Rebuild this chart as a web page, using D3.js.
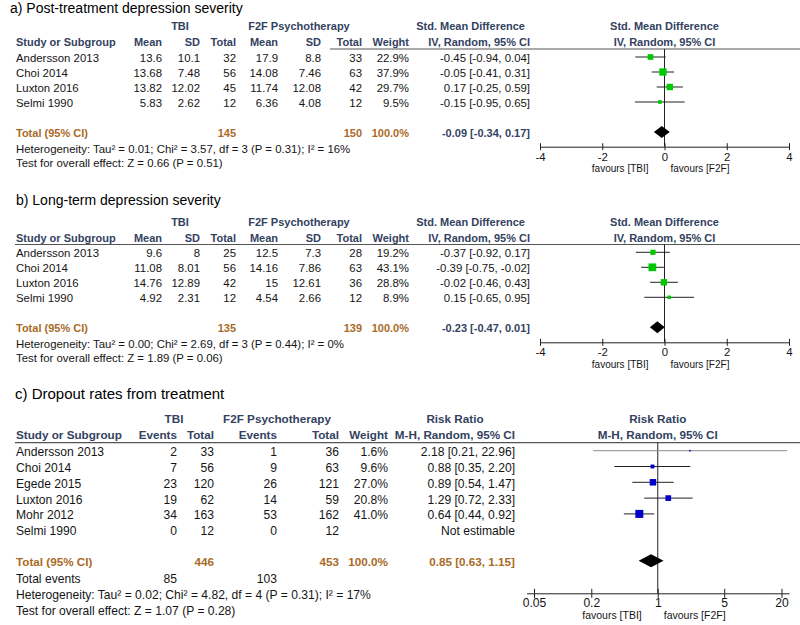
<!DOCTYPE html>
<html><head><meta charset="utf-8">
<script src="https://cdn.jsdelivr.net/npm/d3@7"></script>
<style>body{margin:0;background:#fff} svg{display:block} text{font-family:"Liberation Sans",Arial,sans-serif}</style>
</head><body><svg id="c" width="800" height="625"></svg>
<script>
// ---------- DATA ----------
const aTitle = "a) Post-treatment depression severity";
const aStudies = ["Andersson 2013","Choi 2014","Luxton 2016","Selmi 1990"];
const aTbiMean = [13.6, 13.68, 13.82, 5.83];
const aTbiSD   = [10.1, 7.48, 12.02, 2.62];
const aTbiN    = [32, 56, 45, 12];
const aF2fMean = [17.9, 14.08, 11.74, 6.36];
const aF2fSD   = [8.8, 7.46, 12.08, 4.08];
const aF2fN    = [33, 63, 42, 12];
const aWeight  = [22.9, 37.9, 29.7, 9.5];
const aEst     = [-0.45, -0.05, 0.17, -0.15];
const aLo      = [-0.94, -0.41, -0.25, -0.95];
const aHi      = [0.04, 0.31, 0.59, 0.65];
const aTotalN  = [145, 150];
const aTotalCI = [-0.09, -0.34, 0.17];
const aHet  = "Heterogeneity: Tau\u00b2 = 0.01; Chi\u00b2 = 3.57, df = 3 (P = 0.31); I\u00b2 = 16%";
const aTest = "Test for overall effect: Z = 0.66 (P = 0.51)";

const bTitle = "b) Long-term depression severity";
const bStudies = ["Andersson 2013","Choi 2014","Luxton 2016","Selmi 1990"];
const bTbiMean = [9.6, 11.08, 14.76, 4.92];
const bTbiSD   = [8, 8.01, 12.89, 2.31];
const bTbiN    = [25, 56, 42, 12];
const bF2fMean = [12.5, 14.16, 15, 4.54];
const bF2fSD   = [7.3, 7.86, 12.61, 2.66];
const bF2fN    = [28, 63, 36, 12];
const bWeight  = [19.2, 43.1, 28.8, 8.9];
const bEst     = [-0.37, -0.39, -0.02, 0.15];
const bLo      = [-0.92, -0.75, -0.46, -0.65];
const bHi      = [0.17, -0.02, 0.43, 0.95];
const bTotalN  = [135, 139];
const bTotalCI = [-0.23, -0.47, 0.01];
const bHet  = "Heterogeneity: Tau\u00b2 = 0.00; Chi\u00b2 = 2.69, df = 3 (P = 0.44); I\u00b2 = 0%";
const bTest = "Test for overall effect: Z = 1.89 (P = 0.06)";

const cTitle = "c) Dropout rates from treatment";
const cStudies  = ["Andersson 2013","Choi 2014","Egede 2015","Luxton 2016","Mohr 2012","Selmi 1990"];
const cTbiEv    = [2, 7, 23, 19, 34, 0];
const cTbiN     = [33, 56, 120, 62, 163, 12];
const cF2fEv    = [1, 9, 26, 14, 53, 0];
const cF2fN     = [36, 63, 121, 59, 162, 12];
const cWeight   = [1.6, 9.6, 27.0, 20.8, 41.0, null];
const cEst      = [2.18, 0.88, 0.89, 1.29, 0.64, null];
const cLo       = [0.21, 0.35, 0.54, 0.72, 0.44, null];
const cHi       = [22.96, 2.20, 1.47, 2.33, 0.92, null];
const cTotalN   = [446, 453];
const cTotalEv  = [85, 103];
const cTotalCI  = [0.85, 0.63, 1.15];
const cHet  = "Heterogeneity: Tau\u00b2 = 0.02; Chi\u00b2 = 4.82, df = 4 (P = 0.31); I\u00b2 = 17%";
const cTest = "Test for overall effect: Z = 1.07 (P = 0.28)";

const smdTicks = [-4, -2, 0, 2, 4];
const rrTicks  = [0.05, 0.2, 1, 5, 20];

// ---------- DRAWING ----------
const svg = d3.select("#c");
const HEAD = "#33425f", TOT = "#aa6a28", TXT = "#151515";
const f2 = d => d.toFixed(2);
const ci = (e, l, h) => `${f2(e)} [${f2(l)}, ${f2(h)}]`;
const pct = w => w.toFixed(1) + "%";

function txt(g, x, y, s, o = {}) {
  const t = g.append("text").attr("x", x).attr("y", y).text(s)
    .attr("text-anchor", o.anchor || "start")
    .attr("font-size", o.fs)
    .attr("fill", o.fill || TXT);
  if (o.bold) t.attr("font-weight", "bold");
  if (o.family) t.attr("font-family", o.family);
  return t;
}

function drawAxis(g, x, L, ticks, zero) {
  const ax = g.append("g").attr("transform", `translate(0,${L.axisY})`)
    .call(d3.axisBottom(x).tickValues(ticks).tickSize(0).tickPadding(0).tickFormat(d => String(d)));
  ax.select(".domain").attr("stroke", "#222").attr("stroke-width", 1);
  ax.selectAll(".tick line").attr("y1", -L.tickLen).attr("y2", L.tickLen).attr("stroke", "#222");
  ax.selectAll(".tick text").attr("y", L.tickLabY - L.axisY).attr("dy", 0)
    .attr("font-size", L.fs).attr("fill", TXT).attr("font-family", '"Liberation Sans",Arial,sans-serif');
  // zero line
  g.append("line").attr("x1", x(zero)).attr("x2", x(zero))
    .attr("y1", L.lineY).attr("y2", L.axisY).attr("stroke", "#222").attr("stroke-width", 1);
  txt(g, x(zero) - 16, L.favY, "favours [TBI]", {anchor: "end", fs: L.favFs});
  txt(g, x(zero) + 6, L.favY, "favours [F2F]", {fs: L.favFs});
}

function drawMarkers(g, x, L, rows, color, size, tot) {
  rows.forEach((r, i) => {
    if (r.est == null) return;
    const y = L.rowY0 + i * L.step;
    const outside = r.lo < x.domain()[0] || r.hi > L.clipHi;
    g.append("line").attr("x1", x(r.lo)).attr("x2", x(r.hi)).attr("y1", y).attr("y2", y)
      .attr("stroke", outside ? "#8a8a8a" : "#222").attr("stroke-width", 1);
    const s = size(r.w);
    g.append("rect").attr("x", x(r.est) - s / 2).attr("y", y - s / 2)
      .attr("width", s).attr("height", s).attr("fill", color);
  });
  const y = L.totY, hh = L.dia;
  g.append("path")
    .attr("d", `M${x(tot[1])},${y}L${x(tot[0])},${y - hh}L${x(tot[2])},${y}L${x(tot[0])},${y + hh}Z`)
    .attr("fill", "#000");
}

function drawContinuous(L, D) {
  const g = svg.append("g");
  const fs = L.fs, fb = L.fsb, C = L.cols;
  txt(g, L.titleX, L.titleY, D.title, {fs: L.titleFs, family: "Lato", fill: "#000"});
  // headers
  txt(g, C.tbiC, L.h1, "TBI", {anchor: "middle", fs: fb, bold: 1, fill: HEAD});
  txt(g, C.f2fC, L.h1, "F2F Psychotherapy", {anchor: "middle", fs: fb, bold: 1, fill: HEAD});
  txt(g, C.ciE - 5, L.h1, "Std. Mean Difference", {anchor: "end", fs: fb, bold: 1, fill: HEAD});
  txt(g, C.study, L.h2, "Study or Subgroup", {fs: fb, bold: 1, fill: HEAD});
  [["Mean", C.m1], ["SD", C.s1], ["Total", C.n1], ["Mean", C.m2], ["SD", C.s2], ["Total", C.n2], ["Weight", C.w], ["IV, Random, 95% CI", C.ciE]]
    .forEach(([s, xx]) => txt(g, xx, L.h2, s, {anchor: "end", fs: fb, bold: 1, fill: HEAD}));
  const x = d3.scaleLinear().domain([smdTicks[0], smdTicks[smdTicks.length - 1]]).range(L.xr);
  txt(g, x(0), L.h1, "Std. Mean Difference", {anchor: "middle", fs: fb, bold: 1, fill: HEAD});
  txt(g, x(0), L.h2, "IV, Random, 95% CI", {anchor: "middle", fs: fb, bold: 1, fill: HEAD});
  g.append("line").attr("x1", L.lineX0).attr("x2", 800).attr("y1", L.lineY).attr("y2", L.lineY)
    .attr("stroke", "#555").attr("stroke-width", 1.2);
  const rows = D.studies.map((s, i) => ({s, m1: D.m1[i], s1: D.s1[i], n1: D.n1[i], m2: D.m2[i], s2: D.s2[i], n2: D.n2[i], w: D.w[i], est: D.est[i], lo: D.lo[i], hi: D.hi[i]}));
  rows.forEach((r, i) => {
    const y = L.rowY0 + i * L.step + L.tb;
    txt(g, C.study, y, r.s, {fs});
    [[r.m1, C.m1], [r.s1, C.s1], [r.n1, C.n1], [r.m2, C.m2], [r.s2, C.s2], [r.n2, C.n2]]
      .forEach(([v, xx]) => txt(g, xx, y, String(v), {anchor: "end", fs}));
    txt(g, C.w, y, pct(r.w), {anchor: "end", fs});
    txt(g, C.ciE, y, ci(r.est, r.lo, r.hi), {anchor: "end", fs});
  });
  const ty = L.totY + L.tb;
  txt(g, C.study, ty, "Total (95% CI)", {fs: fb, bold: 1, fill: TOT});
  txt(g, C.n1, ty, String(D.totN[0]), {anchor: "end", fs: fb, bold: 1, fill: TOT});
  txt(g, C.n2, ty, String(D.totN[1]), {anchor: "end", fs: fb, bold: 1, fill: TOT});
  txt(g, C.w, ty, pct(100), {anchor: "end", fs: fb, bold: 1, fill: TOT});
  txt(g, C.ciE, ty, ci(...D.totCI), {anchor: "end", fs: fb, bold: 1, fill: HEAD});
  txt(g, C.study, L.hetY, D.het, {fs});
  txt(g, C.study, L.testY, D.test, {fs});
  drawAxis(g, x, L, smdTicks, 0);
  const size = d3.scaleSqrt().domain([0, 100]).range([0, 11.8]);
  drawMarkers(g, x, L, rows, "#00c800", size, D.totCI);
}

function drawDichotomous(L, D) {
  const g = svg.append("g");
  const fs = L.fs, fb = L.fsb, C = L.cols;
  txt(g, L.titleX, L.titleY, D.title, {fs: L.titleFs, family: "Lato", fill: "#000"});
  txt(g, C.tbiC, L.h1, "TBI", {anchor: "middle", fs: fb, bold: 1, fill: HEAD});
  txt(g, C.f2fC, L.h1, "F2F Psychotherapy", {anchor: "middle", fs: fb, bold: 1, fill: HEAD});
  txt(g, C.rrC, L.h1, "Risk Ratio", {anchor: "middle", fs: fb, bold: 1, fill: HEAD});
  txt(g, C.study, L.h2, "Study or Subgroup", {fs: fb, bold: 1, fill: HEAD});
  [["Events", C.e1], ["Total", C.n1], ["Events", C.e2], ["Total", C.n2], ["Weight", C.w], ["M-H, Random, 95% CI", C.ciE]]
    .forEach(([s, xx]) => txt(g, xx, L.h2, s, {anchor: "end", fs: fb, bold: 1, fill: HEAD}));
  const x = d3.scaleLog().domain(L.dom).range(L.xr);
  txt(g, x(1), L.h1, "Risk Ratio", {anchor: "middle", fs: fb, bold: 1, fill: HEAD});
  txt(g, x(1), L.h2, "M-H, Random, 95% CI", {anchor: "middle", fs: fb, bold: 1, fill: HEAD});
  g.append("line").attr("x1", L.lineX0).attr("x2", 800).attr("y1", L.lineY).attr("y2", L.lineY)
    .attr("stroke", "#555").attr("stroke-width", 1.2);
  const rows = D.studies.map((s, i) => ({s, e1: D.e1[i], n1: D.n1[i], e2: D.e2[i], n2: D.n2[i], w: D.w[i], est: D.est[i], lo: D.lo[i], hi: D.hi[i]}));
  rows.forEach((r, i) => {
    const y = L.rowY0 + i * L.step + L.tb;
    txt(g, C.study, y, r.s, {fs});
    [[r.e1, C.e1], [r.n1, C.n1], [r.e2, C.e2], [r.n2, C.n2]]
      .forEach(([v, xx]) => txt(g, xx, y, String(v), {anchor: "end", fs}));
    if (r.w != null) txt(g, C.w, y, pct(r.w), {anchor: "end", fs});
    txt(g, C.ciE, y, r.est != null ? ci(r.est, r.lo, r.hi) : "Not estimable", {anchor: "end", fs});
  });
  const ty = L.totY + L.tb;
  txt(g, C.study, ty, "Total (95% CI)", {fs: fb, bold: 1, fill: TOT});
  txt(g, C.n1, ty, String(D.totN[0]), {anchor: "end", fs: fb, bold: 1, fill: TOT});
  txt(g, C.n2, ty, String(D.totN[1]), {anchor: "end", fs: fb, bold: 1, fill: TOT});
  txt(g, C.w, ty, pct(100), {anchor: "end", fs: fb, bold: 1, fill: TOT});
  txt(g, C.ciE, ty, ci(...D.totCI), {anchor: "end", fs: fb, bold: 1, fill: TOT});
  txt(g, C.study, L.totEvY, "Total events", {fs});
  txt(g, C.e1, L.totEvY, String(D.totEv[0]), {anchor: "end", fs});
  txt(g, C.e2, L.totEvY, String(D.totEv[1]), {anchor: "end", fs});
  txt(g, C.study, L.hetY, D.het, {fs});
  txt(g, C.study, L.testY, D.test, {fs});
  drawAxis(g, x, L, rrTicks, 1);
  const size = d3.scaleSqrt().domain([0, 100]).range([0, 12.5]);
  drawMarkers(g, x, L, rows, "#0000c8", size, D.totCI);
}

const colsAB = {study: 16, tbiC: 180, f2fC: 299, m1: 162, s1: 200, n1: 236, m2: 278, s2: 321, n2: 362, w: 409, ciE: 530};

drawContinuous({
  titleX: 10, titleY: 13, titleFs: 14, h1: 30, h2: 45.5, lineY: 49, lineX0: 330,
  rowY0: 57, step: 15, tb: 5, totY: 132, hetY: 152.8, testY: 166.5,
  axisY: 146.7, tickLabY: 160.7, favY: 171.5, tickLen: 3.5, fs: 11.4, fsb: 11, favFs: 10,
  xr: [540, 789], dia: 6, clipHi: 99, cols: colsAB
}, {title: aTitle, studies: aStudies, m1: aTbiMean, s1: aTbiSD, n1: aTbiN, m2: aF2fMean, s2: aF2fSD, n2: aF2fN,
    w: aWeight, est: aEst, lo: aLo, hi: aHi, totN: aTotalN, totCI: aTotalCI, het: aHet, test: aTest});

drawContinuous({
  titleX: 16, titleY: 205, titleFs: 14, h1: 225.7, h2: 241.8, lineY: 244.5, lineX0: 15,
  rowY0: 252.3, step: 15, tb: 5, totY: 327.3, hetY: 347.5, testY: 361.5,
  axisY: 342.3, tickLabY: 356.5, favY: 368, tickLen: 3.5, fs: 11.4, fsb: 11, favFs: 10,
  xr: [540, 789], dia: 6, clipHi: 99, cols: colsAB
}, {title: bTitle, studies: bStudies, m1: bTbiMean, s1: bTbiSD, n1: bTbiN, m2: bF2fMean, s2: bF2fSD, n2: bF2fN,
    w: bWeight, est: bEst, lo: bLo, hi: bHi, totN: bTotalN, totCI: bTotalCI, het: bHet, test: bTest});

drawDichotomous({
  titleX: 15, titleY: 398.5, titleFs: 15, h1: 422.5, h2: 439.2, lineY: 442.7, lineX0: 15,
  rowY0: 450.7, step: 15.8, tb: 5.5, totY: 560.7, totEvY: 583.3, hetY: 599.3, testY: 615,
  axisY: 593.3, tickLabY: 607.5, favY: 619, tickLen: 4.5, fs: 12.1, fsb: 11.7, favFs: 10.5,
  dom: [1 / 24, 24], xr: [526.5, 789], dia: 6.5, clipHi: 20,
  cols: {study: 16, tbiC: 174, f2fC: 277, rrC: 455, e1: 177, n1: 214, e2: 277, n2: 339, w: 388, ciE: 515}
}, {title: cTitle, studies: cStudies, e1: cTbiEv, n1: cTbiN, e2: cF2fEv, n2: cF2fN, w: cWeight,
    est: cEst, lo: cLo, hi: cHi, totN: cTotalN, totEv: cTotalEv, totCI: cTotalCI, het: cHet, test: cTest});
</script></body></html>
